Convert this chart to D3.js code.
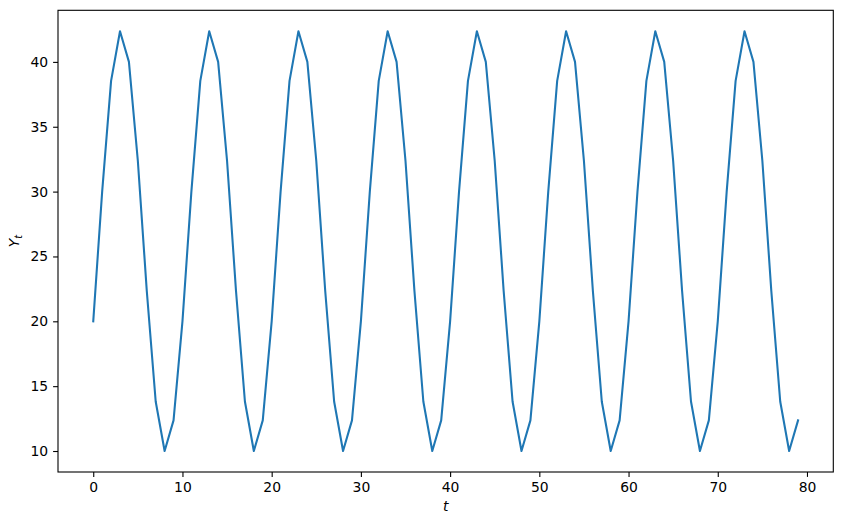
<!DOCTYPE html>
<html>
<head>
<meta charset="utf-8">
<script src="https://cdn.jsdelivr.net/npm/d3@7"></script>
<style>
  body { margin: 0; background: #fff; }
  svg { font-family: "DejaVu Sans", sans-serif; }
  .tick text { font-size: 13.9px; fill: #000; }
  .tick line, .domain { stroke: #000; }
</style>
</head>
<body>
<div id="canvas"></div>
<script>
// series values Y_t, t = 0..79
const yValues = [
  20, 30, 38.54, 42.36, 40, 32.36, 22.36, 13.82, 10, 12.36,
  20, 30, 38.54, 42.36, 40, 32.36, 22.36, 13.82, 10, 12.36,
  20, 30, 38.54, 42.36, 40, 32.36, 22.36, 13.82, 10, 12.36,
  20, 30, 38.54, 42.36, 40, 32.36, 22.36, 13.82, 10, 12.36,
  20, 30, 38.54, 42.36, 40, 32.36, 22.36, 13.82, 10, 12.36,
  20, 30, 38.54, 42.36, 40, 32.36, 22.36, 13.82, 10, 12.36,
  20, 30, 38.54, 42.36, 40, 32.36, 22.36, 13.82, 10, 12.36,
  20, 30, 38.54, 42.36, 40, 32.36, 22.36, 13.82, 10, 12.36
];
const tValues = yValues.map((d, i) => i);
const xTicks = [0, 10, 20, 30, 40, 50, 60, 70, 80];
const yTicks = [10, 15, 20, 25, 30, 35, 40];

const width = 842;
const height = 525;
const margin = { top: 10.3, left: 58, bottom: 53, right: 8.7 };
const iwidth = width - margin.left - margin.right;
const iheight = height - margin.top - margin.bottom;

const svg = d3.select("#canvas").append("svg")
  .attr("width", width)
  .attr("height", height);

const g = svg.append("g").attr("transform", `translate(${margin.left},${margin.top})`);

// matplotlib style 5% margins
const xMin = d3.min(tValues), xMax = d3.max(tValues);
const yMin = d3.min(yValues), yMax = d3.max(yValues);
const xPad = (xMax - xMin) * 0.05, yPad = (yMax - yMin) * 0.05;

const x = d3.scaleLinear()
  .domain([xMin - xPad, xMax + xPad])
  .range([0, iwidth]);

const y = d3.scaleLinear()
  .domain([yMin - yPad, yMax + yPad])
  .range([iheight, 0]);

const line = d3.line()
  .x((d, i) => x(tValues[i]))
  .y(d => y(d));

g.append("path")
  .datum(yValues)
  .attr("fill", "none")
  .attr("stroke", "#1f77b4")
  .attr("stroke-width", 2.08)
  .attr("stroke-linejoin", "round")
  .attr("stroke-linecap", "square")
  .attr("d", line);

const xAxis = g.append("g")
  .attr("transform", `translate(0,${iheight})`)
  .call(d3.axisBottom(x).tickValues(xTicks).tickSize(4.9).tickPadding(4.9).tickSizeOuter(0));

const yAxis = g.append("g")
  .call(d3.axisLeft(y).tickValues(yTicks).tickSize(4.9).tickPadding(4.9).tickSizeOuter(0));

[xAxis, yAxis].forEach(a => {
  a.attr("font-family", "DejaVu Sans").attr("font-size", 13.9);
  a.select(".domain").remove();
  a.selectAll(".tick line").attr("stroke-width", 1.1);
});

// frame
g.append("rect")
  .attr("width", iwidth)
  .attr("height", iheight)
  .attr("fill", "none")
  .attr("stroke", "#000")
  .attr("stroke-width", 1.1);

svg.append("text")
  .attr("x", margin.left + iwidth / 2)
  .attr("y", 511)
  .attr("text-anchor", "middle")
  .attr("font-size", 13.9)
  .attr("font-style", "italic")
  .text("t");

const yl = svg.append("text")
  .attr("transform", `translate(19,${margin.top + iheight / 2}) rotate(-90)`)
  .attr("text-anchor", "middle")
  .attr("font-size", 13.9)
  .attr("font-style", "italic");
yl.append("tspan").text("Y");
yl.append("tspan").attr("font-size", 9.7).attr("dy", 2.5).text("t");
</script>
</body>
</html>
